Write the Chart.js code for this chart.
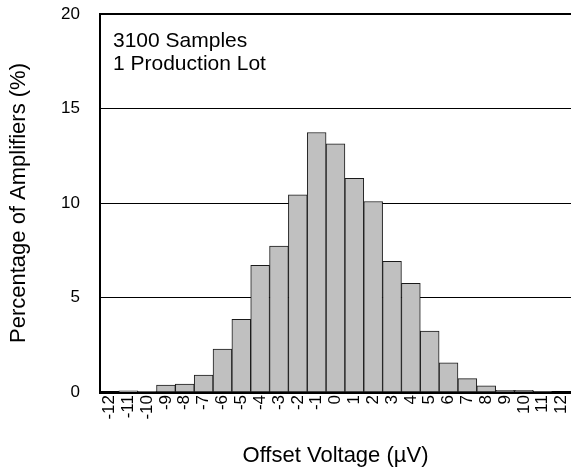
<!DOCTYPE html>
<html>
<head>
<meta charset="utf-8">
<script src="https://cdn.jsdelivr.net/npm/chart.js@4/dist/chart.umd.min.js"></script>
<style>
    html, body { margin: 0; padding: 0; background: #fff; }
    #wrap { width: 571px; height: 473px; position: relative; }
</style>
</head>
<body>
<div id="wrap"><canvas id="histChart" width="571" height="473"></canvas></div>
<script>
// offset voltage bins (µV) and percentage of amplifiers in each bin
var offsetBins = ["-12", "-11", "-10", "-9", "-8", "-7", "-6", "-5", "-4", "-3", "-2", "-1",
    "0", "1", "2", "3", "4", "5", "6", "7", "8", "9", "10", "11", "12"];
var percentAmps = [0, 0.06, 0.03, 0.37, 0.42, 0.9, 2.27, 3.85, 6.7, 7.72, 10.43, 13.73,
    13.13, 11.3, 10.08, 6.92, 5.75, 3.22, 1.55, 0.71, 0.33, 0.09, 0.09, 0.02, 0];
var yTicks = [0, 5, 10, 15, 20];
var noteLines = ["3100 Samples", "1 Production Lot"];

var FONT = "'Liberation Sans', Arial, sans-serif";

// text box in the upper left corner of the plot
var notePlugin = {
    id: "noteText",
    afterDraw: function (chart) {
        var c = chart.ctx;
        var area = chart.chartArea;
        c.save();
        c.fillStyle = "#000";
        c.font = "21px " + FONT;
        c.textBaseline = "alphabetic";
        c.textAlign = "left";
        for (var i = 0; i < noteLines.length; i++) {
            c.fillText(noteLines[i], area.left + 13, area.top + 33 + i * 23);
        }
        c.restore();
    },
};

var ctx = document.getElementById("histChart").getContext("2d");
var histChart = new Chart(ctx, {
    type: "bar",
    data: {
        labels: offsetBins,
        datasets: [
            {
                data: percentAmps,
                backgroundColor: "#c0c0c0",
                borderColor: "#1a1a1a",
                borderWidth: 1,
                borderSkipped: false,
                categoryPercentage: 1.0,
                barPercentage: 1.0,
            },
        ],
    },
    options: {
        responsive: false,
        animation: false,
        layout: { padding: { top: 14, right: 0, left: 0, bottom: 0 } },
        plugins: {
            legend: { display: false },
            tooltip: { enabled: false },
        },
        scales: {
            x: {
                grid: { display: false, drawTicks: false },
                border: { color: "#000", width: 3 },
                ticks: {
                    color: "#000",
                    font: { family: FONT, size: 17 },
                    minRotation: 90,
                    maxRotation: 90,
                    autoSkip: false,
                    padding: 3,
                },
                title: {
                    display: true,
                    text: "Offset Voltage (µV)",
                    color: "#000",
                    font: { family: FONT, size: 22 },
                    padding: { top: 0, bottom: 4 },
                },
                afterFit: function (scale) {
                    // fixed axis band, no extra side padding for the labels
                    scale.height = 81;
                    scale.paddingLeft = 0;
                    scale.paddingRight = 0;
                },
            },
            y: {
                min: 0,
                max: 20,
                afterBuildTicks: function (scale) {
                    scale.ticks = yTicks.map(function (v) { return { value: v }; });
                },
                grid: {
                    color: "#000",
                    drawTicks: false,
                    lineWidth: function (c) {
                        if (c.tick && c.tick.value === 20) return 2;
                        if (c.tick && c.tick.value === 0) return 0;
                        return 1;
                    },
                },
                border: { color: "#000", width: 2 },
                ticks: {
                    color: "#000",
                    font: { family: FONT, size: 17 },
                    padding: 20,
                },
                title: {
                    display: true,
                    text: "Percentage of Amplifiers (%)",
                    color: "#000",
                    font: { family: FONT, size: 22 },
                    padding: { top: 6, bottom: 0 },
                },
                afterFit: function (scale) {
                    scale.width = 100;
                    scale.paddingTop = 0;
                    scale.paddingBottom = 0;
                },
            },
        },
    },
    plugins: [notePlugin],
});
</script>
</body>
</html>
